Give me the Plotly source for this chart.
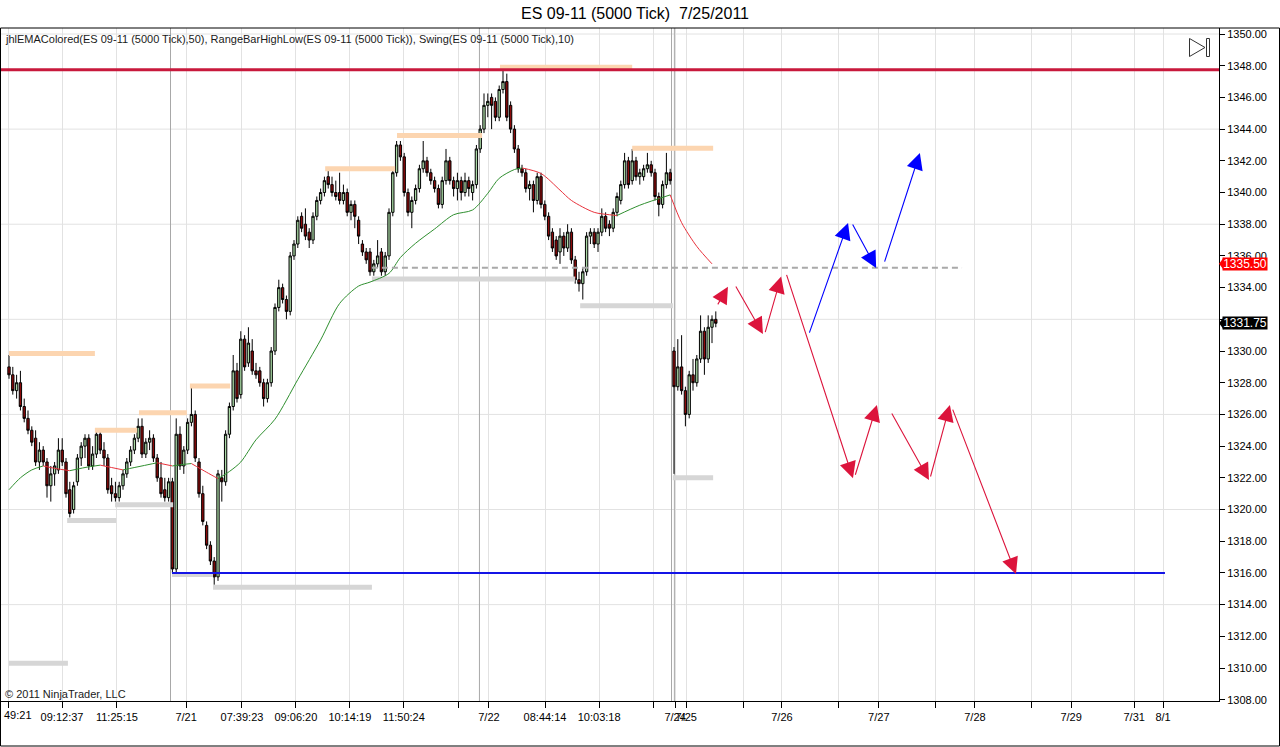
import plotly.graph_objects as go

# ---------------- text ----------------
title_text = "ES 09-11 (5000 Tick)\u00a0\u00a07/25/2011"
indicator_label = ("jhlEMAColored(ES 09-11 (5000 Tick),50), RangeBarHighLow(ES 09-11 (5000 Tick)), "
                   "Swing(ES 09-11 (5000 Tick),10)")
copyright_text = "\u00a9 2011 NinjaTrader, LLC"

# ---------------- price bars (5000 tick) ----------------
opens = [1329.0, 1328.5, 1327.5, 1328.0, 1326.5, 1325.75, 1325.0, 1324.5, 1323.0, 1323.75,
         1323.0, 1321.5, 1322.25, 1322.5, 1323.75, 1323.0, 1321.25, 1320.0, 1321.75, 1323.25,
         1324.0, 1324.5, 1322.75, 1323.5, 1324.75, 1323.75, 1323.25, 1321.5, 1321.0, 1320.75,
         1321.5, 1322.25, 1323.0, 1323.75, 1324.5, 1325.25, 1323.5, 1324.25, 1324.5, 1323.25,
         1322.0, 1321.25, 1320.75, 1321.75, 1316.25, 1324.75, 1322.75, 1323.75, 1325.5, 1326.0,
         1323.0, 1321.0, 1319.0, 1317.75, 1316.75, 1315.75, 1322.0, 1321.75, 1324.75, 1326.5,
         1328.75, 1327.25, 1330.75, 1329.25, 1330.0, 1328.75, 1328.75, 1328.0, 1327.0, 1328.0,
         1330.0, 1332.75, 1334.0, 1333.25, 1332.5, 1336.0, 1336.75, 1338.5, 1338.0, 1337.5,
         1337.0, 1338.5, 1339.5, 1340.0, 1341.0, 1340.5, 1340.0, 1340.0, 1339.5, 1340.0,
         1338.75, 1339.25, 1338.25, 1336.75, 1336.25, 1336.25, 1335.0, 1335.5, 1336.25, 1335.0,
         1336.0, 1338.75, 1341.25, 1343.0, 1342.25, 1340.0, 1338.75, 1339.5, 1340.25, 1341.5,
         1342.0, 1341.25, 1340.75, 1340.25, 1339.25, 1340.75, 1342.0, 1340.75, 1340.25, 1340.75,
         1340.0, 1340.75, 1340.0, 1340.5, 1342.75, 1344.0, 1345.5, 1346.0, 1345.75, 1344.75,
         1346.5, 1347.0, 1345.5, 1344.0, 1342.75, 1341.5, 1341.25, 1340.25, 1340.5, 1339.5,
         1341.0, 1339.25, 1338.5, 1337.5, 1337.0, 1336.25, 1337.25, 1336.5, 1337.5, 1335.75,
         1334.5, 1334.25, 1335.0, 1337.25, 1337.5, 1336.75, 1337.5, 1338.5, 1338.0, 1337.75,
         1338.75, 1339.5, 1340.5, 1342.0, 1340.75, 1342.0, 1341.0, 1341.0, 1341.5, 1341.75,
         1341.25, 1339.75, 1339.25, 1340.5, 1341.25,
         1330.0, 1327.75, 1329.0, 1327.5, 1326.0, 1328.5, 1328.0, 1329.5, 1331.25, 1329.5,
         1331.5, 1332.0]
highs = [1329.75, 1329.0, 1328.5, 1328.75, 1327.0, 1326.25, 1325.25, 1325.0, 1324.25, 1324.0,
         1323.25, 1322.75, 1323.0, 1324.5, 1324.5, 1323.25, 1321.75, 1321.75, 1323.5, 1324.25,
         1324.75, 1324.75, 1324.0, 1325.0, 1325.0, 1324.25, 1323.5, 1322.0, 1321.75, 1321.75,
         1322.5, 1323.25, 1324.0, 1324.75, 1325.75, 1325.75, 1324.5, 1325.0, 1324.75, 1323.5,
         1323.0, 1322.0, 1322.0, 1322.0, 1325.75, 1325.25, 1324.0, 1325.75, 1327.75, 1326.25,
         1323.25, 1321.5, 1319.25, 1318.0, 1317.0, 1322.5, 1322.5, 1325.0, 1326.75, 1329.75,
         1329.25, 1331.25, 1331.0, 1331.5, 1330.75, 1329.25, 1329.0, 1328.25, 1328.25, 1330.25,
         1333.0, 1334.5, 1334.25, 1333.5, 1336.25, 1337.0, 1338.5, 1338.75, 1339.0, 1337.75,
         1338.75, 1339.75, 1340.25, 1341.0, 1341.5, 1341.0, 1340.75, 1341.25, 1340.5, 1340.25,
         1339.5, 1339.5, 1338.5, 1337.0, 1336.5, 1336.5, 1335.75, 1337.0, 1336.5, 1336.25,
         1339.0, 1341.5, 1343.25, 1343.25, 1342.5, 1340.25, 1339.75, 1340.5, 1341.75, 1343.25,
         1342.25, 1341.5, 1341.0, 1340.5, 1341.0, 1342.75, 1342.25, 1341.0, 1341.25, 1341.0,
         1341.25, 1341.0, 1340.75, 1343.0, 1344.25, 1346.25, 1346.25, 1346.25, 1346.0, 1346.75,
         1347.75, 1347.5, 1345.75, 1344.25, 1343.0, 1341.75, 1341.5, 1340.75, 1340.75, 1341.25,
         1341.25, 1339.5, 1338.75, 1337.75, 1337.25, 1337.75, 1337.5, 1338.0, 1337.75, 1336.0,
         1335.0, 1335.25, 1337.5, 1337.75, 1337.75, 1337.75, 1339.0, 1338.75, 1338.25, 1339.0,
         1340.0, 1340.75, 1342.5, 1342.25, 1342.75, 1342.25, 1341.5, 1341.75, 1342.5, 1342.0,
         1341.5, 1340.0, 1340.75, 1342.5, 1341.5,
         1330.25, 1330.75, 1331.0, 1327.75, 1328.75, 1329.5, 1329.75, 1332.25, 1331.5, 1332.25,
         1332.25, 1332.5]
lows = [1328.25, 1327.25, 1327.0, 1326.25, 1325.5, 1324.75, 1324.0, 1322.75, 1322.5, 1322.75,
        1320.75, 1320.5, 1321.5, 1322.25, 1322.75, 1320.75, 1319.5, 1319.75, 1321.5, 1322.75,
        1323.25, 1322.5, 1322.5, 1323.25, 1323.5, 1322.75, 1321.0, 1320.5, 1320.5, 1320.5,
        1321.25, 1322.0, 1322.75, 1323.5, 1324.25, 1323.25, 1323.25, 1323.75, 1323.0, 1321.75,
        1320.75, 1320.5, 1320.5, 1316.0, 1316.0, 1322.5, 1322.25, 1323.5, 1325.25, 1323.0,
        1320.75, 1319.0, 1317.5, 1316.5, 1315.25, 1315.5, 1320.5, 1321.5, 1324.5, 1326.25,
        1326.75, 1327.0, 1328.75, 1329.0, 1328.5, 1328.25, 1327.75, 1326.5, 1326.75, 1327.75,
        1329.75, 1332.5, 1333.0, 1332.0, 1332.25, 1335.75, 1336.5, 1337.5, 1337.0, 1336.5,
        1336.75, 1338.25, 1339.25, 1339.75, 1340.25, 1339.75, 1339.5, 1339.25, 1339.25, 1338.5,
        1338.25, 1337.75, 1336.75, 1336.0, 1335.5, 1334.75, 1334.75, 1335.25, 1334.75, 1334.75,
        1335.75, 1338.5, 1341.0, 1342.0, 1339.75, 1338.5, 1337.75, 1339.25, 1340.0, 1341.25,
        1341.0, 1340.5, 1340.0, 1339.0, 1339.0, 1340.5, 1340.5, 1339.75, 1339.5, 1339.5,
        1339.75, 1339.75, 1339.5, 1340.25, 1342.5, 1343.75, 1344.75, 1344.0, 1344.5, 1344.5,
        1346.25, 1344.5, 1343.75, 1342.5, 1341.25, 1341.0, 1340.0, 1339.5, 1338.75, 1339.25,
        1339.0, 1338.25, 1337.0, 1336.25, 1335.75, 1335.5, 1336.0, 1336.25, 1335.5, 1334.25,
        1333.75, 1333.25, 1334.75, 1336.75, 1336.5, 1336.25, 1337.25, 1337.5, 1337.25, 1337.5,
        1338.5, 1339.25, 1340.25, 1340.25, 1340.5, 1340.75, 1340.5, 1340.75, 1341.25, 1341.0,
        1339.5, 1338.5, 1339.0, 1340.25, 1340.5,
        1322.25, 1327.5, 1327.25, 1325.25, 1325.75, 1327.5, 1327.75, 1329.25, 1328.5, 1329.25,
        1330.5, 1331.5]
closes = [1328.5, 1327.5, 1328.0, 1326.5, 1325.75, 1325.0, 1324.25, 1323.0, 1323.75, 1323.0,
          1321.5, 1322.25, 1322.75, 1323.75, 1323.0, 1321.0, 1319.75, 1321.5, 1323.25, 1324.0,
          1324.5, 1322.75, 1323.5, 1324.75, 1323.75, 1323.25, 1321.25, 1321.0, 1320.75, 1321.5,
          1322.25, 1323.0, 1323.75, 1324.5, 1325.25, 1323.5, 1324.25, 1324.5, 1323.25, 1322.0,
          1321.0, 1320.75, 1321.75, 1316.25, 1324.75, 1322.75, 1323.75, 1325.5, 1326.0, 1323.25,
          1321.0, 1319.25, 1317.75, 1316.75, 1315.75, 1322.25, 1321.75, 1324.75, 1326.5, 1328.75,
          1327.0, 1330.75, 1329.0, 1330.5, 1328.75, 1328.5, 1328.0, 1327.0, 1328.0, 1330.0,
          1332.75, 1334.0, 1333.25, 1332.5, 1336.0, 1336.75, 1338.25, 1337.75, 1337.25, 1337.0,
          1338.5, 1339.5, 1340.0, 1340.75, 1340.5, 1340.0, 1339.75, 1339.5, 1340.0, 1338.75,
          1339.25, 1338.5, 1337.25, 1336.25, 1335.75, 1335.0, 1335.5, 1336.0, 1335.0, 1336.0,
          1338.75, 1341.25, 1343.0, 1342.25, 1340.0, 1338.75, 1339.5, 1340.25, 1341.5, 1342.0,
          1341.25, 1340.75, 1340.25, 1339.25, 1340.75, 1342.0, 1340.75, 1340.25, 1340.75, 1340.0,
          1340.75, 1340.25, 1340.5, 1342.75, 1344.0, 1345.5, 1345.75, 1345.5, 1344.75, 1346.5,
          1347.0, 1344.75, 1344.0, 1342.75, 1341.5, 1341.25, 1340.25, 1340.5, 1339.5, 1341.0,
          1339.25, 1338.5, 1337.25, 1336.5, 1336.0, 1337.25, 1336.5, 1337.5, 1335.75, 1334.5,
          1334.25, 1335.0, 1337.25, 1337.5, 1336.75, 1337.5, 1338.5, 1337.75, 1337.75, 1338.75,
          1339.75, 1340.5, 1342.0, 1340.5, 1342.0, 1341.0, 1341.25, 1341.5, 1341.75, 1341.25,
          1339.75, 1339.25, 1340.5, 1341.25, 1340.75,
          1327.75, 1329.0, 1327.5, 1326.0, 1328.5, 1328.0, 1329.5, 1331.25, 1329.5, 1331.5,
          1332.0, 1331.75]
bar_index = list(range(len(opens)))

# ---------------- EMA(50) at sample bars ----------------
ema_idx = [0, 3, 6, 9, 12, 16, 20, 24, 27, 30, 35, 39, 43, 46, 48, 52, 55, 58, 61, 65,
           70, 76, 82, 87, 92, 95, 100, 103, 107, 112, 117, 122, 126, 129, 133, 135, 140,
           145, 148, 154, 158, 160, 166, 174, 177, 181, 185]
ema_val = [1321.25, 1322.0, 1322.5, 1322.75, 1322.6, 1322.45, 1322.65, 1322.8, 1322.65, 1322.5,
           1322.75, 1322.95, 1322.75, 1322.85, 1322.9, 1322.35, 1321.95, 1322.4, 1323.0, 1324.4,
           1325.7, 1328.2, 1330.7, 1333.0, 1334.1, 1334.35, 1334.9, 1335.9, 1336.8, 1337.7,
           1338.6, 1338.9, 1339.95, 1340.9, 1341.45, 1341.55, 1341.2, 1340.15, 1339.5, 1338.75,
           1338.6, 1338.55, 1339.2, 1339.85, 1338.1, 1336.6, 1335.5]

# ---------------- Swing indicator lines ----------------
swing_high_start = [0, 22.6, 34.2, 47.6, 83.2, 102.1, 129.2, 164.0]
swing_high_end = [22.6, 33.7, 46.8, 58.2, 101.6, 124.5, 164.0, 185.3]
swing_high_price = [1329.85, 1325.0, 1326.1, 1327.8, 1341.5, 1343.6, 1347.9, 1342.8]
swing_low_start = [0, 15.3, 27.9, 42.9, 53.7, 95.5, 150.3, 174.7]
swing_low_end = [15.5, 28.2, 43.2, 53.7, 95.5, 149.0, 174.7, 185.3]
swing_low_price = [1310.3, 1319.3, 1320.3, 1315.9, 1315.1, 1334.55, 1332.85, 1322.0]

# ---------------- time axis ----------------
x_tick_pos = [-0.26, 13.95, 28.4, 46.6, 61.3, 75.5, 89.7, 103.9, 118.2, 126.3, 141.05, 155.3,
              169.6, 175.3, 178.2, 193.2, 203.4, 218.4, 228.9, 243.7, 254.2, 269.2, 279.5,
              296.1, 303.7]
x_tick_text = ["", "09:12:37", "11:25:15", "7/21", "07:39:23", "09:06:20", "10:14:19",
               "11:50:24", "", "7/22", "08:44:14", "10:03:18", "", "7/24", "7/25", "",
               "7/26", "", "7/27", "", "7/28", "", "7/29", "7/31", "8/1"]
first_label = "49:21"
session_breaks = [42.5, 123.8, 174.35, 175.1]

# price axis labels (1332.00 sits under the last-price tag)
y_tick_pos = list(range(1308, 1351, 2))
y_tick_text = ["" if v == 1332 else f"{v:.2f}" for v in y_tick_pos]

# ---------------- drawing objects ----------------
resistance_price = 1347.75
support_price = 1316.0
support_start, support_end = 42.9, 304.2
level_price = 1335.25
level_start, level_end = 95.5, 250.8

red_tail_x = [186.3, 191.05, 198.9, 204.5, 222.6, 232.1, 242.4, 248.2]
red_tail_y = [1332.85, 1334.16, 1331.1, 1334.9, 1322.1, 1326.15, 1321.99, 1326.4]
red_head_x = [189.2, 198.4, 203.2, 222.1, 228.4, 242.1, 247.6, 265.0]
red_head_y = [1334.05, 1331.07, 1334.7, 1321.97, 1326.6, 1321.86, 1326.6, 1315.93]
blue_tail_x = [210.5, 221.8, 230.3]
blue_tail_y = [1331.07, 1338.08, 1335.55]
blue_head_x = [220.8, 228.2, 239.7]
blue_head_y = [1338.08, 1335.24, 1342.5]

ema_last = 1335.50
last_price = 1331.75

# ---------------- figure geometry ----------------
W, H = 1280, 747
PL, PR, PT, PB = 0, 1219, 28, 701
X_RANGE = [-2.37, 318.42]
Y_RANGE = [1307.92, 1350.38]
FONT = "Liberation Sans, Arial, sans-serif"

def pxx(px):
    return (px - PL) / (PR - PL)

def pyy(py):
    return (PB - py) / (PB - PT)

GREEN_UP = "#2f8f2f"
RED_DN = "#e8323c"
CRIMSON = "#dc143c"

fig = go.Figure()

# swing lines
for s, e, p in zip(swing_high_start, swing_high_end, swing_high_price):
    fig.add_trace(go.Scatter(x=[s, e], y=[p, p], mode="lines",
                             line=dict(color="#fcd5b0", width=5), hoverinfo="skip"))
for s, e, p in zip(swing_low_start, swing_low_end, swing_low_price):
    fig.add_trace(go.Scatter(x=[s, e], y=[p, p], mode="lines",
                             line=dict(color="#d6d6d6", width=5), hoverinfo="skip"))

# coloured EMA
segs = []
cur = None
for k in range(len(ema_idx) - 1):
    col = GREEN_UP if ema_val[k + 1] >= ema_val[k] else RED_DN
    if col != cur:
        segs.append((col, [ema_idx[k]], [ema_val[k]]))
        cur = col
    segs[-1][1].append(ema_idx[k + 1])
    segs[-1][2].append(ema_val[k + 1])
for col, xs, ys in segs:
    fig.add_trace(go.Scatter(x=xs, y=ys, mode="lines",
                             line=dict(color=col, width=1, shape="spline", smoothing=0.8),
                             hoverinfo="skip"))

# candles
fig.add_trace(go.Candlestick(
    x=bar_index, open=opens, high=highs, low=lows, close=closes,
    increasing=dict(line=dict(color="black", width=1), fillcolor="#a9d8a4"),
    decreasing=dict(line=dict(color="black", width=1), fillcolor="#8b0a0a"),
    whiskerwidth=0, hoverinfo="skip"))

shapes = []
# horizontal grid every 6 points
for g in range(1314, 1351, 6):
    shapes.append(dict(type="line", xref="paper", yref="y", x0=0, x1=1, y0=g, y1=g,
                       line=dict(color="#e2e2e2", width=1), layer="below"))
# session breaks
for sb in session_breaks:
    shapes.append(dict(type="line", xref="x", yref="paper", x0=sb, x1=sb, y0=0, y1=1,
                       line=dict(color="#a8a8a8", width=1), layer="below"))
# drawn lines
shapes.append(dict(type="line", xref="paper", yref="y", x0=0, x1=1,
                   y0=resistance_price, y1=resistance_price,
                   line=dict(color="#c8193c", width=3)))
shapes.append(dict(type="line", xref="x", yref="y", x0=support_start, x1=support_end,
                   y0=support_price, y1=support_price, line=dict(color="#1414e6", width=2)))
shapes.append(dict(type="line", xref="x", yref="y", x0=level_start, x1=level_end,
                   y0=level_price, y1=level_price,
                   line=dict(color="#a9a9a9", width=2, dash="6px,4px")))

# price tag pointers
def tag_pointer(price, color):
    dy = 6.5 / 15.85
    return dict(type="path", xref="paper", yref="y",
                path=f"M {pxx(1219)},{price} L {pxx(1224)},{price + dy} L {pxx(1224)},{price - dy} Z",
                fillcolor=color, line=dict(width=0))
shapes.append(tag_pointer(ema_last, "#ff0000"))
shapes.append(tag_pointer(last_price, "#000000"))

# "go to end" icon
shapes.append(dict(type="path", xref="paper", yref="paper",
                   path=(f"M {pxx(1189.5)},{pyy(38.5)} L {pxx(1189.5)},{pyy(56.5)} "
                         f"L {pxx(1205)},{pyy(47.5)} Z"),
                   line=dict(color="#333333", width=1)))
shapes.append(dict(type="rect", xref="paper", yref="paper",
                   x0=pxx(1206.5), x1=pxx(1209.5), y0=pyy(56.5), y1=pyy(38.5),
                   line=dict(color="#333333", width=1)))
# outer frame
shapes.append(dict(type="rect", xref="paper", yref="paper",
                   x0=pxx(0.5), x1=pxx(1279.5), y0=pyy(746), y1=pyy(28),
                   line=dict(color="black", width=1)))

annotations = []
for tx, ty, hx, hy in zip(red_tail_x, red_tail_y, red_head_x, red_head_y):
    annotations.append(dict(x=hx, y=hy, ax=tx, ay=ty, xref="x", yref="y", axref="x", ayref="y",
                            text="", showarrow=True, arrowhead=2, arrowsize=3.0,
                            arrowwidth=1.1, arrowcolor=CRIMSON, standoff=0))
for tx, ty, hx, hy in zip(blue_tail_x, blue_tail_y, blue_head_x, blue_head_y):
    annotations.append(dict(x=hx, y=hy, ax=tx, ay=ty, xref="x", yref="y", axref="x", ayref="y",
                            text="", showarrow=True, arrowhead=2, arrowsize=3.0,
                            arrowwidth=1.1, arrowcolor="#0000ff", standoff=0))

annotations.append(dict(x=pxx(3), y=pyy(39), xref="paper", yref="paper", xanchor="left",
                        yanchor="middle", text=indicator_label, showarrow=False,
                        font=dict(family=FONT, size=11, color="#1a1a1a")))
annotations.append(dict(x=pxx(3), y=pyy(694), xref="paper", yref="paper", xanchor="left",
                        yanchor="middle", text=copyright_text, showarrow=False,
                        font=dict(family=FONT, size=11, color="#1a1a1a")))
annotations.append(dict(x=pxx(2), y=pyy(715), xref="paper", yref="paper", xanchor="left",
                        yanchor="middle", text=first_label, showarrow=False,
                        font=dict(family=FONT, size=11, color="black")))
annotations.append(dict(x=1, xshift=3, y=ema_last, xref="paper", yref="y", xanchor="left",
                        yanchor="middle", text=f"{ema_last:.2f}", showarrow=False,
                        bgcolor="#ff0000", width=44, height=12, borderpad=0,
                        font=dict(family=FONT, size=12, color="white")))
annotations.append(dict(x=1, xshift=3, y=last_price, xref="paper", yref="y", xanchor="left",
                        yanchor="middle", text=f"{last_price:.2f}", showarrow=False,
                        bgcolor="#000000", width=44, height=12, borderpad=0,
                        font=dict(family=FONT, size=12, color="white")))

fig.update_layout(
    width=W, height=H, autosize=False,
    margin=dict(l=PL, r=W - PR, t=PT, b=H - PB, pad=0),
    paper_bgcolor="white", plot_bgcolor="white",
    showlegend=False, boxgap=0.12,
    title=dict(text=title_text, x=635 / W, xref="container", xanchor="center",
               y=1 - 13 / H, yref="container", yanchor="middle",
               font=dict(family=FONT, size=16, color="black")),
    xaxis=dict(range=X_RANGE, tickmode="array", tickvals=x_tick_pos, ticktext=x_tick_text,
               tickangle=0, ticks="outside", ticklen=6, tickcolor="black", showgrid=True,
               gridcolor="#e2e2e2", gridwidth=1, showline=True, linecolor="black",
               zeroline=False, rangeslider=dict(visible=False),
               tickfont=dict(family=FONT, size=11, color="black"), fixedrange=True),
    yaxis=dict(range=Y_RANGE, side="right", tickmode="array", tickvals=y_tick_pos,
               ticktext=y_tick_text,
               ticks="outside", ticklen=5, tickcolor="black", showgrid=False,
               showline=True, linecolor="black", zeroline=False,
               tickfont=dict(family=FONT, size=11, color="black"), fixedrange=True),
    shapes=shapes, annotations=annotations,
    font=dict(family=FONT),
)

fig.write_html("out.html", config={"displayModeBar": False},
               post_script="document.body.style.margin='0';document.body.style.overflow='hidden';")
